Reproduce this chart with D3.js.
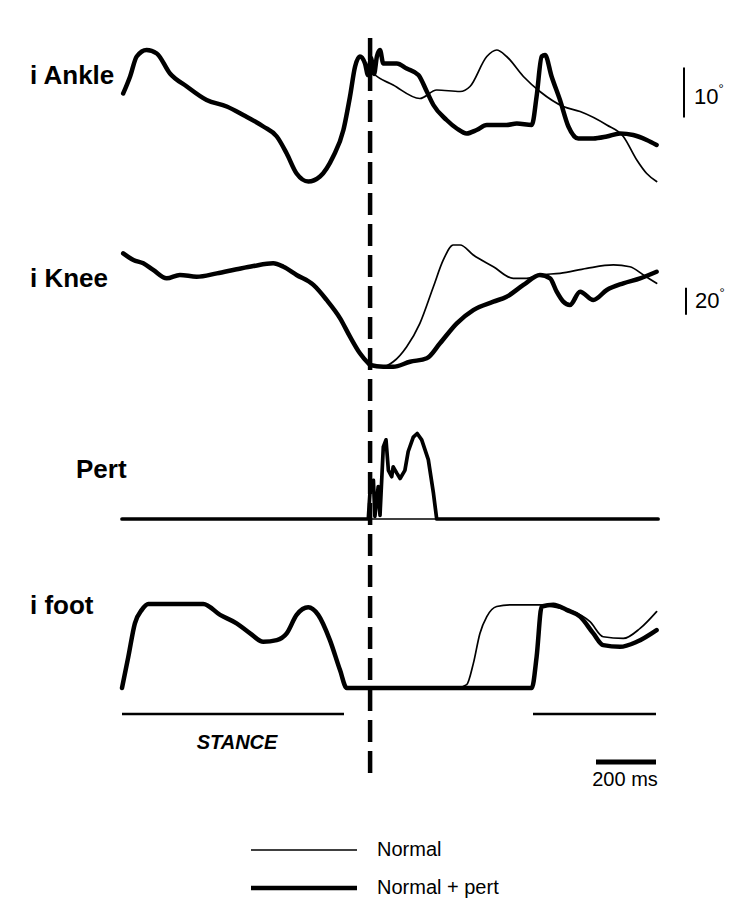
<!DOCTYPE html>
<html>
<head>
<meta charset="utf-8">
<script src="https://cdn.jsdelivr.net/npm/d3@7"></script>
<style>
  html, body { margin: 0; padding: 0; background: #fff; }
  svg { display: block; }
  text { font-family: "Liberation Sans", Arial, sans-serif; fill: #000; }
</style>
</head>
<body>
<svg id="chart" width="737" height="903"></svg>
<script>
// Time in ms from the start of the record; values in panel units.
const perturbationOnset = 827;      // ms, dashed marker
const timeSpan = [0, 1800];

// Ankle angle (deg), shared stance portion before the perturbation
const ankleShared = [[4,17.3],[27,20.7],[49,24.7],[82,26.0],[116,25.3],[160,21.3],[216,18.7],[282,16.0],[349,14.7],[404,13.0],[471,10.7],[516,8.7],[549,5.3],[582,1.3],[621,-0.3],[660,0.7],[704,4.7],[738,10.0],[760,16.7],[777,22.7],[793,24.7],[810,23.3],[827,22.0]];
const ankleNormal = [[838,21.3],[904,19.0],[993,16.3],[1049,18.0],[1127,17.7],[1160,18.7],[1216,24.7],[1249,26.0],[1282,24.7],[1338,20.7],[1393,17.7],[1471,14.7],[1527,13.7],[1616,11.0],[1671,8.7],[1716,4.0],[1749,1.3],[1782,-0.3]];
const anklePert = [[820,21.0],[830,24.4],[840,21.2],[850,24.8],[860,26.0],[871,23.3],[916,23.3],[949,22.3],[988,21.0],[1016,17.7],[1038,15.0],[1082,12.0],[1116,10.3],[1149,9.3],[1182,10.0],[1216,11.0],[1282,11.0],[1316,11.3],[1366,11.0],[1382,16.7],[1399,24.7],[1410,25.0],[1432,20.7],[1460,16.0],[1488,10.7],[1521,8.3],[1571,8.3],[1616,8.7],[1660,9.3],[1704,9.0],[1749,8.0],[1782,7.0]];

// Knee angle (deg)
const kneeShared = [[4,86.4],[38,81.5],[71,79.0],[104,74.1],[149,67.9],[193,70.4],[249,69.1],[316,71.6],[382,74.6],[438,77.0],[504,79.0],[538,76.5],[582,70.4],[638,63.0],[682,51.9],[727,38.3],[760,24.7],[793,12.4],[821,5.0],[827,3.7],[871,2.4]];
const kneeNormal = [[904,6.1],[949,17.3],[993,34.6],[1038,61.7],[1071,81.5],[1104,92.6],[1127,92.6],[1171,85.2],[1238,76.5],[1304,67.9],[1349,67.9],[1393,70.4],[1460,71.6],[1549,75.3],[1638,77.8],[1693,76.5],[1738,70.4],[1782,64.2]];
const kneePert = [[904,2.4],[960,6.1],[1016,8.7],[1060,19.8],[1116,34.6],[1171,44.4],[1238,50.6],[1282,54.3],[1338,63.0],[1393,70.4],[1427,67.9],[1449,58.0],[1471,50.6],[1493,48.1],[1527,58.0],[1571,51.9],[1616,59.3],[1671,64.2],[1727,67.9],[1782,72.8]];

// Perturbation signal (arbitrary units)
const pertNormal = [[0,0],[1787,0]];
const pertSignal = [[0,0],[821,0],[827,32],[838,43],[843,3],[854,36],[860,4],[871,80],[880,88],[888,54],[899,47],[904,58],[916,51],[927,45],[943,54],[954,75],[971,91],[984,95],[999,88],[1021,66],[1038,29],[1049,0],[1787,0]];

// Foot contact (% of full loading)
const footShared = [[0,0],[21,37],[43,77],[66,93],[88,100],[271,100],[327,87],[382,77],[427,65],[471,55],[516,57],[549,65],[582,87],[621,96],[654,87],[693,57],[727,21],[749,0]];
const footNormal = [[1116,0],[1149,4],[1171,29],[1193,65],[1216,85],[1249,97],[1293,99],[1393,99],[1460,95],[1504,91],[1560,79],[1604,61],[1671,59],[1727,71],[1782,91]];
const footPert = [[1366,0],[1382,37],[1399,97],[1438,99],[1482,93],[1527,85],[1571,65],[1604,51],[1660,49],[1716,55],[1782,69]];

// Stance phases (ms)
const stancePhases = [[0, 740], [1370, 1780]];

const panelLabels = ["i Ankle", "i Knee", "Pert", "i foot"];
const legendLabels = ["Normal", "Normal + pert"];
const timeBarMs = [1580, 1780];
const timeBarLabel = "200 ms";
const ankleBar = [12.5, 22.5];   // 10°
const kneeBar = [41, 61];        // 20°

const svg = d3.select("#chart");
const THICK = 4.5, THIN = 1.7;

const x = d3.scaleLinear().domain(timeSpan).range([122, 662]);
const yAnkle = d3.scaleLinear().domain([0, 30]).range([180, 30]);
const yKnee = d3.scaleLinear().domain([0, 100]).range([370, 235]);
const yPert = d3.scaleLinear().domain([0, 100]).range([519, 429]);
const yFoot = d3.scaleLinear().domain([0, 100]).range([688, 604]);

function trace(data, y, width, curve) {
  const line = d3.line()
    .x(d => x(d[0]))
    .y(d => y(d[1]))
    .curve(curve || d3.curveMonotoneX);
  svg.append("path")
    .datum(data)
    .attr("d", line)
    .attr("fill", "none")
    .attr("stroke", "#000")
    .attr("stroke-width", width)
    .attr("stroke-linejoin", "round")
    .attr("stroke-linecap", "round");
}

// Ankle
trace(ankleShared.concat(ankleNormal), yAnkle, THIN);
trace(ankleShared.slice(0, -1).concat(anklePert), yAnkle, THICK);

// Knee
trace(kneeShared.concat(kneeNormal), yKnee, THIN);
trace(kneeShared.concat(kneePert), yKnee, THICK);

// Perturbation
trace(pertNormal, yPert, THIN, d3.curveLinear);
trace(pertSignal, yPert, THICK - 0.8, d3.curveLinear);

// Foot
trace(footShared.concat(footNormal), yFoot, THIN);
trace(footShared.concat(footPert), yFoot, THICK);

// Stance bars
svg.selectAll(".stance")
  .data(stancePhases)
  .join("line")
  .attr("x1", d => x(d[0])).attr("x2", d => x(d[1]))
  .attr("y1", 714).attr("y2", 714)
  .attr("stroke", "#000").attr("stroke-width", 2.6);

svg.append("text")
  .attr("x", x((stancePhases[0][0] + stancePhases[0][1]) / 2) + 4)
  .attr("y", 749)
  .attr("text-anchor", "middle")
  .attr("font-size", 20)
  .attr("font-weight", "bold")
  .attr("font-style", "italic")
  .text("STANCE");

// Perturbation onset marker
svg.append("line")
  .attr("x1", x(perturbationOnset)).attr("x2", x(perturbationOnset))
  .attr("y1", 38).attr("y2", 780)
  .attr("stroke", "#000").attr("stroke-width", 4.5)
  .attr("stroke-dasharray", "22,9");

// Panel labels
const labelPos = [[30, 84], [30, 287], [76, 478], [30, 614]];
svg.selectAll(".plabel")
  .data(panelLabels)
  .join("text")
  .attr("x", (d, i) => labelPos[i][0])
  .attr("y", (d, i) => labelPos[i][1])
  .attr("font-size", 26)
  .attr("font-weight", "bold")
  .text(d => d);

// Angle scale bars
function angleBar(px, y, range, label, tx, ty) {
  svg.append("line")
    .attr("x1", px).attr("x2", px)
    .attr("y1", y(range[0])).attr("y2", y(range[1]))
    .attr("stroke", "#000").attr("stroke-width", 2);
  const t = svg.append("text").attr("x", tx).attr("y", ty).attr("font-size", 22);
  t.append("tspan").text(label);
  t.append("tspan").attr("font-size", 13).attr("dy", -11).text("°");
}
angleBar(684, yAnkle, ankleBar, "10", 694, 104);
angleBar(686, yKnee, kneeBar, "20", 695, 308);

// Time scale bar
svg.append("line")
  .attr("x1", x(timeBarMs[0])).attr("x2", x(timeBarMs[1]))
  .attr("y1", 762).attr("y2", 762)
  .attr("stroke", "#000").attr("stroke-width", 5);
svg.append("text")
  .attr("x", (x(timeBarMs[0]) + x(timeBarMs[1])) / 2 - 1)
  .attr("y", 786)
  .attr("text-anchor", "middle")
  .attr("font-size", 20)
  .text(timeBarLabel);

// Legend
const legendY = [850, 888];
const legendW = [THIN, THICK];
legendLabels.forEach((lab, i) => {
  svg.append("line")
    .attr("x1", 251).attr("x2", 357)
    .attr("y1", legendY[i]).attr("y2", legendY[i])
    .attr("stroke", "#000").attr("stroke-width", legendW[i]);
  svg.append("text")
    .attr("x", 377).attr("y", legendY[i] + 6)
    .attr("font-size", 20)
    .text(lab);
});
</script>
</body>
</html>
